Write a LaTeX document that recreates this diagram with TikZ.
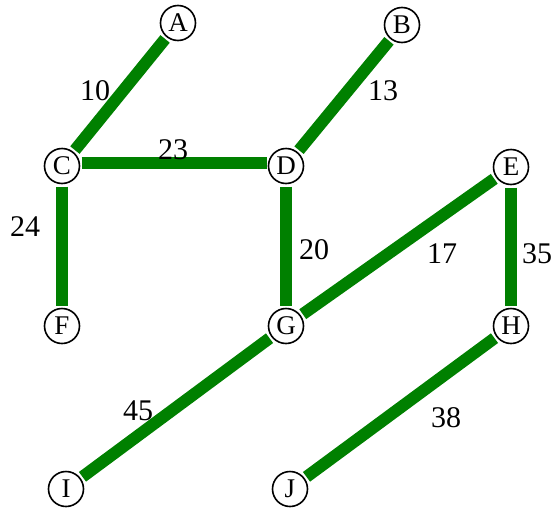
\documentclass[tikz,border=0pt]{standalone}
\usepackage{fontspec}
\setmainfont{Liberation Serif}
\definecolor{webgreen}{HTML}{008000}
\begin{document}
\begin{tikzpicture}[x=1pt,y=-1pt,
  vertex/.style={circle,draw=black,line width=1.6pt,fill=white,minimum size=35pt,inner sep=0pt,outer sep=3pt,font=\fontsize{27}{27}\selectfont},
  edge/.style={draw=webgreen,line width=12pt},
  weight/.style={font=\fontsize{30}{30}\selectfont,inner sep=0pt}]
\useasboundingbox (0,0) rectangle (557,509);
\node[vertex] (A) at (178,23) {A};
\node[vertex] (B) at (402,25) {B};
\node[vertex] (C) at (62,166) {C};
\node[vertex] (D) at (286,166) {D};
\node[vertex] (E) at (511,167) {E};
\node[vertex] (F) at (62,326) {F};
\node[vertex] (G) at (286,326) {G};
\node[vertex] (H) at (511,326) {H};
\node[vertex] (I) at (66,489) {I};
\node[vertex] (J) at (290,489) {J};
\draw[edge] (A) -- (C);
\draw[edge] (B) -- (D);
\draw[edge] ([yshift=3pt,xshift=-1pt]C.east) -- ([yshift=3pt,xshift=1pt]D.west);
\draw[edge] (C) -- (F);
\draw[edge] (D) -- (G);
\draw[edge] (E) -- (G);
\draw[edge] (E) -- (H);
\draw[edge] (G) -- (I);
\draw[edge] (H) -- (J);
\node[weight] (w10) at (95,91) {10};
\node[weight] (w13) at (383,91) {13};
\node[weight] (w23) at (173,150) {23};
\node[weight] (w24) at (25,227) {24};
\node[weight] (w20) at (314,250) {20};
\node[weight] (w17) at (442,254) {17};
\node[weight] (w35) at (537,254) {35};
\node[weight] (w45) at (138,411) {45};
\node[weight] (w38) at (446,418) {38};
\end{tikzpicture}
\end{document}
